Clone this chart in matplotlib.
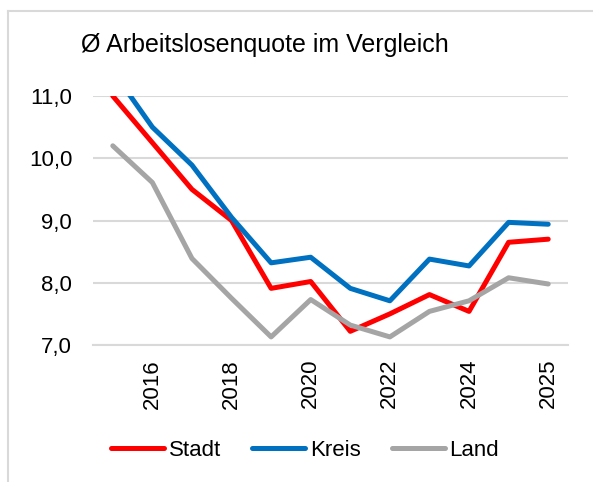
import matplotlib
matplotlib.use("Agg")
import matplotlib.pyplot as plt
from matplotlib.lines import Line2D

plt.rcParams['font.family'] = ['Liberation Sans', 'DejaVu Sans']

# data (12 category positions; labels shown on every other)
positions = list(range(12))
stadt = [11.0, 10.25, 9.5, 9.0, 7.91, 8.02, 7.22, 7.5, 7.81, 7.54, 8.65, 8.70]
kreis = [11.4, 10.5, 9.89, 9.05, 8.32, 8.41, 7.91, 7.71, 8.38, 8.27, 8.97, 8.94]
land = [10.2, 9.61, 8.39, 7.75, 7.13, 7.73, 7.32, 7.13, 7.54, 7.71, 8.08, 7.98]
tick_positions = [1, 3, 5, 7, 9, 11]
tick_labels = ["2016", "2018", "2020", "2022", "2024", "2025"]
y_ticks = [7.0, 8.0, 9.0, 10.0, 11.0]
series_names = ["Stadt", "Kreis", "Land"]
colors = ["#FF0000", "#0070C0", "#A5A5A5"]

fig = plt.figure(figsize=(5.93, 4.82), dpi=100)
ax = fig.add_axes([93/593, 1-345/482, (568-93)/593, (345-96)/482])

for vals, name, c in zip([stadt, kreis, land], series_names, colors):
    ax.plot(positions, vals, color=c, lw=3.6, label=name,
            solid_capstyle='round', solid_joinstyle='round')

ax.set_xlim(-0.5, 11.5)
ax.set_ylim(7.0, 11.0)
ax.set_yticks(y_ticks)
ax.set_yticklabels([f"{v:.1f}".replace('.', ',') for v in y_ticks], fontsize=16)
ax.set_xticks(tick_positions)
ax.set_xticklabels(tick_labels, rotation=90, fontsize=16)
ax.tick_params(axis='both', length=0)
ax.tick_params(axis='y', pad=15)
ax.tick_params(axis='x', pad=10)
ax.grid(axis='y', color='#D9D9D9', lw=1.5)
ax.set_axisbelow(True)
for s in ['top', 'right', 'left']:
    ax.spines[s].set_visible(False)
ax.spines['bottom'].set_color('#D9D9D9')
ax.spines['bottom'].set_linewidth(1.5)

fig.text(265/593, 1-45/482, "Ø Arbeitslosenquote im Vergleich", fontsize=18,
         ha='center', va='center')

leg = fig.legend(loc='center', bbox_to_anchor=(305/593, 1-450/482), ncol=3,
                 frameon=False, fontsize=16, handlelength=2.4, handletextpad=0.2,
                 columnspacing=1.4)

# outer frame (chart border partly visible)
fig.add_artist(Line2D([8/593, 8/593], [0, 1-11/482], color='#D9D9D9', lw=1.5))
fig.add_artist(Line2D([8/593, 1], [1-11/482, 1-11/482], color='#D9D9D9', lw=1.5))

fig.savefig("out.png", dpi=100)
